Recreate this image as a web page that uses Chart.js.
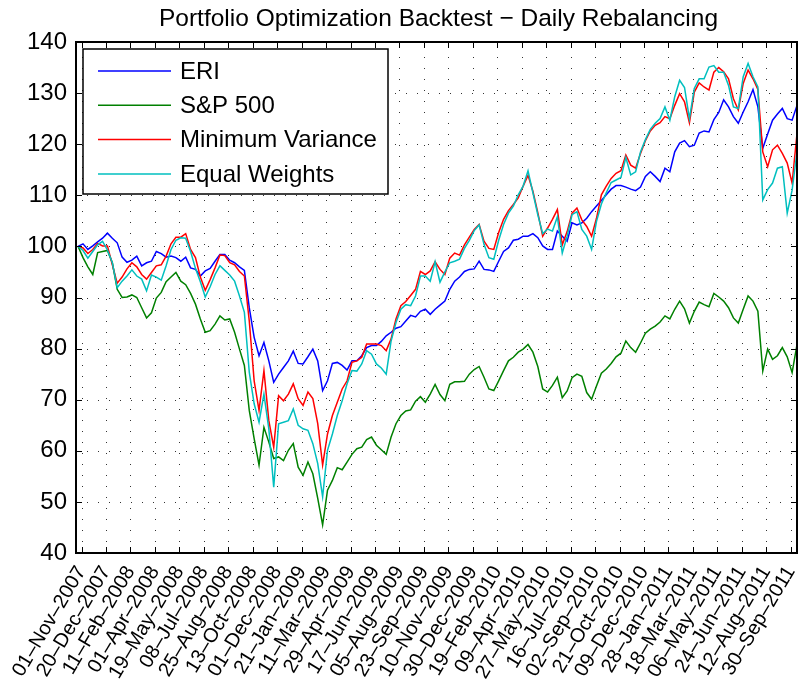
<!DOCTYPE html>
<html>
<head>
<meta charset="utf-8">
<title>Portfolio Optimization Backtest</title>
<script src="https://cdn.jsdelivr.net/npm/chart.js@4.4.1/dist/chart.umd.min.js"></script>
<style>
  html, body { margin: 0; padding: 0; background: #fff; }
</style>
</head>
<body>
<canvas id="backtest" width="800" height="679"></canvas>
<script>
// samples are taken every STEP trading days, starting FIRST_DAY days before 01-Nov-2007
const FIRST_DAY = -5;
const STEP = 7;

const tickDays = [0, 35, 70, 105, 140, 175, 210, 245, 280, 315, 350, 385, 420, 455, 490,
  525, 560, 595, 630, 665, 700, 735, 770, 805, 840, 875, 910, 945, 980, 1015];
const tickLabels = ['01–Nov–2007', '20–Dec–2007', '11–Feb–2008', '01–Apr–2008', '19–May–2008',
  '08–Jul–2008', '25–Aug–2008', '13–Oct–2008', '01–Dec–2008', '21–Jan–2009', '11–Mar–2009',
  '29–Apr–2009', '17–Jun–2009', '05–Aug–2009', '23–Sep–2009', '10–Nov–2009', '30–Dec–2009',
  '19–Feb–2010', '09–Apr–2010', '27–May–2010', '16–Jul–2010', '02–Sep–2010', '21–Oct–2010',
  '09–Dec–2010', '28–Jan–2011', '18–Mar–2011', '06–May–2011', '24–Jun–2011', '12–Aug–2011',
  '30–Sep–2011'];

const eri = [
  100, 100.5, 99.4, 100.1, 100.9, 101.6, 102.6, 101.6, 100.7, 97.9, 96.9, 97.3,
  98.1, 96.2, 96.8, 97.1, 99.0, 98.6, 97.9, 98.1, 97.8, 97.1, 97.9, 95.8,
  95.5, 94.2, 95.2, 95.7, 97.1, 98.4, 98.4, 97.3, 96.8, 96.0, 95.3, 88.0,
  82.2, 78.6, 81.2, 77.6, 73.4, 75.0, 76.3, 77.6, 79.5, 77.1, 77.0, 78.4,
  79.9, 77.6, 71.8, 73.7, 77.1, 77.3, 76.7, 75.8, 77.6, 77.6, 78.6, 80.2,
  80.6, 80.6, 81.4, 82.5, 83.2, 84.0, 84.3, 85.4, 86.5, 86.2, 87.3, 87.7,
  86.7, 87.7, 88.5, 89.3, 91.6, 93.2, 94.0, 95.1, 95.5, 95.6, 97.1, 95.5,
  95.4, 95.1, 97.1, 99.0, 99.7, 101.2, 101.4, 102.0, 102.0, 102.5, 101.7, 100.1,
  99.4, 99.4, 103.0, 102.0, 101.0, 104.6, 104.2, 104.6, 105.5, 106.8, 107.9, 109.0,
  110.1, 111.2, 111.9, 111.9, 111.6, 111.2, 110.9, 111.6, 113.7, 114.6, 113.7, 112.7,
  115.3, 114.6, 118.5, 120.2, 120.7, 119.5, 119.8, 122.2, 122.6, 122.4, 124.8, 126.2,
  128.7, 127.3, 125.4, 124.1, 126.3, 128.3, 130.7, 127.3, 119.2, 122.0, 124.7, 125.9,
  127.0, 125.0, 124.7, 127.6
];

const sp500 = [
  100, 97.8, 96.0, 94.5, 98.8, 99.0, 99.2, 96.8, 91.6, 90.0, 90.1, 90.5,
  90.0, 88.0, 86.0, 87.0, 89.9, 91.0, 93.1, 94.0, 94.9, 93.2, 92.5, 90.8,
  88.7, 85.8, 83.2, 83.5, 84.8, 86.4, 85.6, 85.8, 83.2, 79.9, 76.7, 67.9,
  62.4, 57.2, 64.6, 61.7, 58.5, 58.8, 58.1, 60.1, 61.4, 56.8, 55.2, 57.8,
  55.5, 50.7, 45.5, 52.3, 54.2, 56.7, 56.3, 57.8, 59.3, 60.4, 60.7, 62.2,
  62.7, 61.1, 60.2, 59.3, 62.7, 65.3, 66.9, 67.8, 68.0, 69.7, 70.6, 69.5,
  71.1, 73.0, 71.0, 69.8, 73.0, 73.5, 73.5, 73.6, 75.0, 75.9, 76.5, 74.4,
  72.1, 71.8, 73.7, 75.7, 77.6, 78.3, 79.3, 79.9, 80.8, 79.3, 76.5, 72.1,
  71.5, 72.8, 74.4, 70.4, 71.7, 74.3, 75.0, 74.6, 71.4, 70.1, 72.7, 75.2,
  76.0, 77.1, 78.4, 79.1, 81.5, 80.2, 79.3, 81.1, 83.0, 83.8, 84.4, 85.2,
  86.4, 85.8, 87.7, 89.3, 87.8, 85.0, 87.3, 89.1, 88.6, 88.2, 90.8, 90.1,
  89.3, 88.0, 86.0, 85.0, 87.7, 90.3, 89.3, 87.3, 75.6, 79.9, 77.9, 78.6,
  80.2, 78.4, 75.3, 80.8
];

const minVariance = [
  100, 99.7, 98.6, 99.4, 100.6, 100.1, 100.1, 96.4, 92.8, 94.0, 95.6, 96.8,
  96.0, 94.5, 93.6, 94.9, 96.2, 96.4, 98.1, 100.5, 101.8, 101.8, 102.5, 99.4,
  97.8, 94.0, 91.4, 93.5, 95.8, 98.3, 98.2, 96.8, 96.4, 95.1, 94.2, 85.4,
  73.7, 67.9, 75.7, 65.9, 60.7, 70.8, 69.8, 71.1, 73.1, 70.2, 68.9, 71.5,
  70.2, 65.3, 57.2, 63.3, 66.9, 69.5, 72.1, 73.7, 77.3, 77.6, 78.3, 80.9,
  80.9, 80.9, 80.6, 79.6, 81.9, 85.8, 88.4, 89.2, 90.4, 91.6, 95.1, 94.5,
  95.2, 97.0, 95.5, 94.5, 97.7, 98.7, 98.3, 100.3, 101.8, 103.3, 104.3, 101.0,
  99.6, 99.4, 102.7, 105.3, 107.0, 108.2, 109.5, 111.8, 113.9, 110.8, 106.6, 102.0,
  103.6, 105.3, 107.2, 100.3, 102.9, 106.5, 107.5, 105.2, 103.9, 102.0, 105.5, 110.1,
  111.8, 113.3, 114.3, 114.8, 117.9, 115.9, 115.3, 118.2, 120.7, 122.6, 123.7, 124.2,
  125.4, 125.0, 127.6, 129.9, 128.3, 124.2, 130.2, 132.0, 131.2, 130.6, 134.1, 135.0,
  134.2, 132.8, 128.9, 126.7, 131.9, 134.5, 132.8, 130.7, 118.5, 115.6, 118.9, 119.8,
  118.2, 116.3, 112.4, 122.1
];

const equalWeights = [
  100, 99.2, 97.7, 99.0, 100.3, 101.0, 99.3, 96.8, 91.9, 93.2, 94.2, 95.4,
  94.2, 93.6, 91.3, 94.4, 94.0, 93.4, 96.2, 99.4, 101.2, 101.7, 101.6, 99.0,
  95.7, 93.1, 90.1, 92.1, 94.5, 96.2, 95.3, 94.4, 93.2, 90.3, 87.1, 75.4,
  69.2, 65.6, 71.1, 64.3, 52.9, 65.3, 65.6, 65.9, 68.2, 65.0, 64.3, 64.0,
  61.4, 57.5, 51.0, 60.1, 63.3, 66.9, 69.8, 73.1, 75.7, 75.6, 77.0, 79.6,
  78.9, 77.0, 76.2, 75.0, 81.5, 85.1, 87.7, 88.6, 88.4, 90.3, 94.2, 94.2,
  93.2, 97.0, 93.0, 95.0, 96.8, 97.1, 97.5, 99.6, 101.2, 103.1, 104.2, 100.4,
  97.8, 97.5, 101.2, 104.3, 106.5, 107.9, 110.1, 111.8, 114.8, 110.5, 106.2, 102.5,
  103.4, 103.0, 105.8, 98.7, 102.0, 106.2, 106.8, 103.3, 102.0, 99.4, 104.9, 108.3,
  110.5, 112.5, 113.0, 113.5, 117.4, 114.0, 114.6, 118.5, 120.9, 122.9, 124.1, 125.0,
  127.3, 124.7, 129.3, 132.5, 131.1, 125.0, 130.9, 132.8, 132.8, 135.1, 135.4, 134.1,
  134.1, 131.5, 127.3, 127.0, 133.2, 135.8, 133.2, 131.2, 109.1, 111.1, 112.4, 115.3,
  115.6, 106.5, 111.0, 118.5
];

const FONT_FAMILY = "'Liberation Sans', Arial, Helvetica, sans-serif";
const TITLE = 'Portfolio Optimization Backtest − Daily Rebalancing';

const days = eri.map((_, i) => FIRST_DAY + i * STEP);
const toPoints = values => values.map((v, i) => ({ x: days[i], y: v }));

// matlab look: dotted grid, boxed axes with inward ticks, legend box, title
const matlabFrame = {
  id: 'matlabFrame',
  beforeDatasetsDraw(chart) {
    const { ctx, chartArea: a, scales: { x, y } } = chart;
    ctx.save();
    ctx.strokeStyle = 'rgba(0,0,0,0.8)';
    ctx.lineWidth = 1;
    ctx.setLineDash([1, 10]);
    tickDays.forEach(d => {
      const px = Math.round(x.getPixelForValue(d)) + 0.5;
      ctx.beginPath();
      ctx.moveTo(px, a.bottom);
      ctx.lineTo(px, a.top);
      ctx.stroke();
    });
    y.ticks.forEach(t => {
      const py = Math.round(y.getPixelForValue(t.value)) + 0.5;
      ctx.beginPath();
      ctx.moveTo(a.left, py);
      ctx.lineTo(a.right, py);
      ctx.stroke();
    });
    ctx.restore();
  },
  afterDatasetsDraw(chart) {
    const { ctx, chartArea: a, scales: { x, y } } = chart;
    ctx.save();

    // inward tick marks on all four sides
    ctx.strokeStyle = '#000';
    ctx.lineWidth = 1;
    const tl = 6;
    tickDays.forEach(d => {
      const px = Math.round(x.getPixelForValue(d)) + 0.5;
      ctx.beginPath();
      ctx.moveTo(px, a.bottom); ctx.lineTo(px, a.bottom - tl);
      ctx.moveTo(px, a.top); ctx.lineTo(px, a.top + tl);
      ctx.stroke();
    });
    y.ticks.forEach(t => {
      const py = Math.round(y.getPixelForValue(t.value)) + 0.5;
      ctx.beginPath();
      ctx.moveTo(a.left, py); ctx.lineTo(a.left + tl, py);
      ctx.moveTo(a.right, py); ctx.lineTo(a.right - tl, py);
      ctx.stroke();
    });

    // axes box
    ctx.lineWidth = 2;
    ctx.strokeRect(a.left, a.top, a.right - a.left, a.bottom - a.top);

    // legend
    const lx = a.left + 7, ly = a.top + 7, lw = 305, lh = 145;
    ctx.fillStyle = '#fff';
    ctx.fillRect(lx, ly, lw, lh);
    ctx.lineWidth = 1.5;
    ctx.strokeRect(lx, ly, lw, lh);
    ctx.font = '24px ' + FONT_FAMILY;
    ctx.textBaseline = 'middle';
    ctx.textAlign = 'left';
    chart.data.datasets.forEach((ds, i) => {
      const cy = ly + 22 + i * 34.3;
      ctx.strokeStyle = ds.borderColor;
      ctx.lineWidth = 1.5;
      ctx.beginPath();
      ctx.moveTo(lx + 15, cy);
      ctx.lineTo(lx + 88, cy);
      ctx.stroke();
      ctx.fillStyle = '#000';
      ctx.fillText(ds.label, lx + 97, cy + 1);
    });

    // title over the plot box
    ctx.font = '24.5px ' + FONT_FAMILY;
    ctx.textAlign = 'center';
    ctx.textBaseline = 'alphabetic';
    ctx.fillText(TITLE, (a.left + a.right) / 2 + 2, 26);
    ctx.restore();
  }
};

Chart.defaults.font.family = FONT_FAMILY;
Chart.defaults.color = '#000';

new Chart(document.getElementById('backtest'), {
  type: 'line',
  data: {
    datasets: [
      { label: 'ERI', data: toPoints(eri), borderColor: '#0000ff', order: 3 },
      { label: 'S&P 500', data: toPoints(sp500), borderColor: '#008000', order: 2 },
      { label: 'Minimum Variance', data: toPoints(minVariance), borderColor: '#ff0000', order: 1 },
      { label: 'Equal Weights', data: toPoints(equalWeights), borderColor: '#00bfbf', order: 0 }
    ]
  },
  options: {
    responsive: false,
    animation: false,
    devicePixelRatio: 1,
    layout: { padding: { top: 42, right: 3, left: 0, bottom: 0 } },
    elements: {
      line: { borderWidth: 1.5, tension: 0, fill: false },
      point: { radius: 0 }
    },
    plugins: {
      legend: { display: false },
      title: { display: false },
      tooltip: { enabled: false }
    },
    scales: {
      x: {
        type: 'linear',
        min: -8,
        max: 1024,
        grid: { display: false, drawTicks: false },
        border: { display: false },
        afterBuildTicks: s => { s.ticks = tickDays.map(v => ({ value: v })); },
        afterFit: s => { s.height = 126; s.paddingLeft = 0; s.paddingRight = 0; },
        ticks: {
          autoSkip: false,
          minRotation: 59,
          maxRotation: 59,
          padding: 9,
          font: { size: 20 },
          callback: v => tickLabels[tickDays.indexOf(v)]
        }
      },
      y: {
        min: 40,
        max: 140,
        grid: { display: false, drawTicks: false },
        border: { display: false },
        afterFit: s => { s.width = 76; s.paddingTop = 0; s.paddingBottom = 0; },
        ticks: { stepSize: 10, padding: 9, font: { size: 24 } }
      }
    }
  },
  plugins: [matlabFrame]
});
</script>
</body>
</html>
